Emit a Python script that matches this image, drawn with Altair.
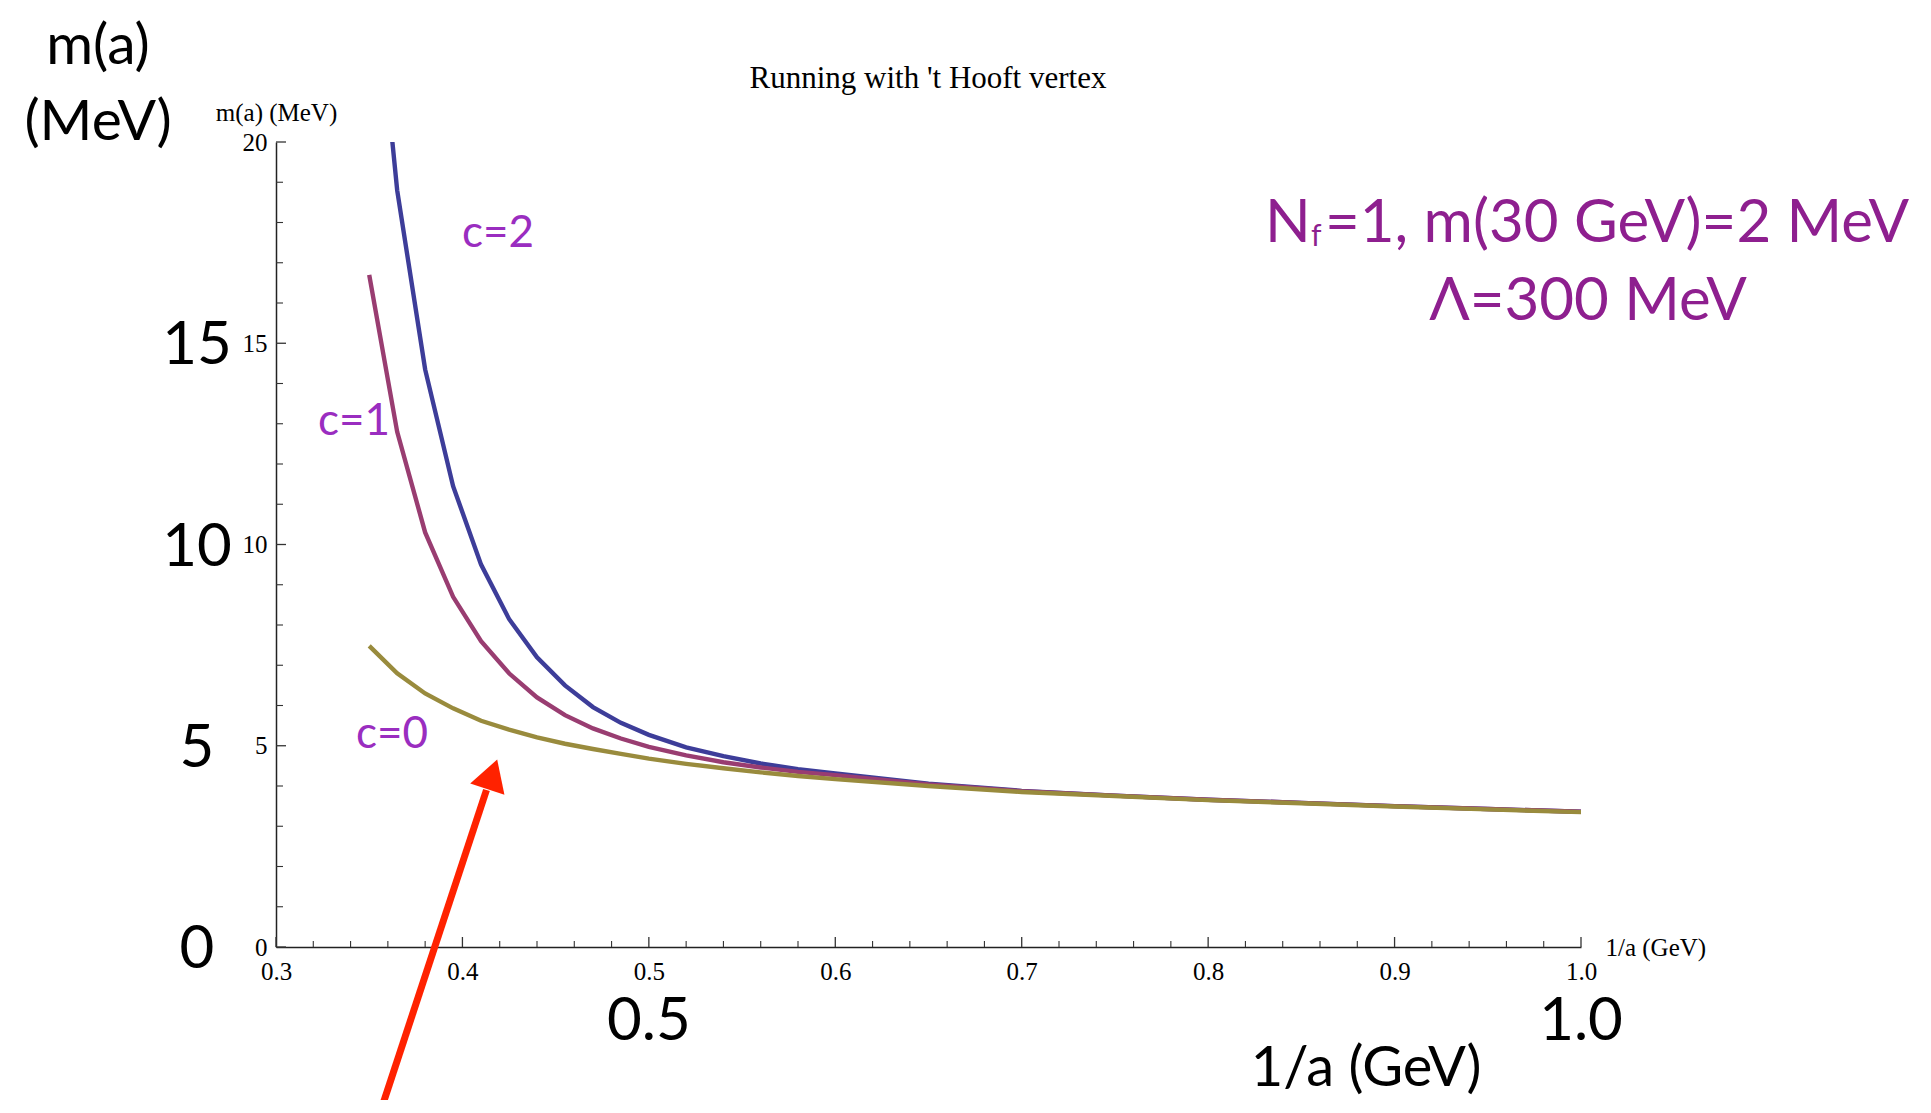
import altair as alt
import pandas as pd

# ---- curve data ----
x_vals = [0.35, 0.365, 0.38, 0.395, 0.41, 0.425, 0.44, 0.455, 0.47, 0.485, 0.50,
          0.52, 0.54, 0.56, 0.58, 0.60, 0.65, 0.70, 0.75, 0.80, 0.85, 0.90, 0.95, 1.00]
m_c2 = [25.8, 18.8, 14.35, 11.45, 9.5, 8.15, 7.2, 6.5, 5.96, 5.57, 5.27,
        4.96, 4.74, 4.56, 4.42, 4.31, 4.06, 3.88, 3.76, 3.66, 3.58, 3.50, 3.43, 3.36]
m_c1 = [16.7, 12.8, 10.3, 8.7, 7.6, 6.8, 6.2, 5.76, 5.43, 5.18, 4.97,
        4.76, 4.59, 4.46, 4.35, 4.27, 4.04, 3.87, 3.76, 3.66, 3.58, 3.50, 3.43, 3.36]
m_c0 = [7.48, 6.8, 6.3, 5.93, 5.62, 5.40, 5.21, 5.05, 4.92, 4.80, 4.68,
        4.55, 4.44, 4.34, 4.25, 4.17, 4.00, 3.85, 3.75, 3.65, 3.57, 3.49, 3.42, 3.35]

# ---- axis ticks ----
x_major = [0.3, 0.4, 0.5, 0.6, 0.7, 0.8, 0.9, 1.0]
x_minor = [round(0.3 + 0.02 * i, 2) for i in range(36) if i % 5 != 0]
y_major = [0, 5, 10, 15, 20]
y_minor = [v for v in range(0, 21) if v % 5 != 0]

# ---- annotations ----
curve_labels = ["c=2", "c=1", "c=0"]
curve_label_x = [0.3998, 0.3225, 0.3429]
curve_label_y = [17.4, 12.72, 4.94]
big_y_labels = ["15", "10", "5", "0"]
big_y_vals = [15, 10, 5, 0]
big_x_labels = ["0.5", "1.0"]
big_x_vals = [0.5, 1.0]
arrow_x = [0.3558, 0.4129]
arrow_y = [-4.12, 3.90]
arrow_head_x = [0.416]
arrow_head_y = [4.29]

W, H = 1305, 805
SERIF = "Liberation Serif"
SANS = "Lato"
PURPLE = "#8e1f8f"
VIOLET = "#9a2dc0"

xs = alt.Scale(domain=[0.3, 1.0], nice=False, zero=False)
ys = alt.Scale(domain=[0, 20], nice=False, zero=False)

def curve(vals, color):
    df = pd.DataFrame({"x": x_vals, "m": vals})
    return alt.Chart(df).mark_line(color=color, strokeWidth=4.4, clip=True).encode(
        x=alt.X("x:Q", scale=xs),
        y=alt.Y("m:Q", scale=ys),
    )

x_axis = alt.Axis(values=x_major, format=".1f", ticks=False, tickSize=0, grid=False,
                  labelFlush=False, domainColor="#222222", domainWidth=1.5,
                  labelFont=SERIF, labelFontSize=25, labelColor="black", labelPadding=12,
                  title="1/a (GeV)", titleFont=SERIF, titleFontSize=25, titleFontWeight="normal",
                  titleColor="black", titleX=1329, titleY=0, titleAlign="left",
                  titleBaseline="middle")
y_axis = alt.Axis(values=y_major, ticks=False, tickSize=0, grid=False,
                  labelFlush=False, domainColor="#222222", domainWidth=1.5,
                  labelFont=SERIF, labelFontSize=25, labelColor="black", labelPadding=9,
                  title="m(a) (MeV)", titleFont=SERIF, titleFontSize=25, titleFontWeight="normal",
                  titleColor="black", titleAngle=0, titleX=0, titleY=-30, titleAlign="center",
                  titleBaseline="middle")

base_df = pd.DataFrame({"x": [0.3, 1.0], "m": [0, 20]})
axes = alt.Chart(base_df).mark_point(opacity=0).encode(
    x=alt.X("x:Q", scale=xs, axis=x_axis),
    y=alt.Y("m:Q", scale=ys, axis=y_axis),
)

ymaj = alt.Chart(pd.DataFrame({"m": y_major})).mark_rule(color="#333333", strokeWidth=1.3).encode(
    y=alt.Y("m:Q", scale=ys), x=alt.value(0), x2=alt.value(10))
ymin = alt.Chart(pd.DataFrame({"m": y_minor})).mark_rule(color="#333333", strokeWidth=1.1).encode(
    y=alt.Y("m:Q", scale=ys), x=alt.value(0), x2=alt.value(7))
xmaj = alt.Chart(pd.DataFrame({"x": x_major})).mark_rule(color="#333333", strokeWidth=1.3).encode(
    x=alt.X("x:Q", scale=xs), y=alt.value(H), y2=alt.value(H - 10))
xmin = alt.Chart(pd.DataFrame({"x": x_minor})).mark_rule(color="#333333", strokeWidth=1.1).encode(
    x=alt.X("x:Q", scale=xs), y=alt.value(H), y2=alt.value(H - 6))

c_lab = alt.Chart(pd.DataFrame({"x": curve_label_x, "m": curve_label_y, "t": curve_labels})).mark_text(
    font=SANS, fontSize=44, color=VIOLET, align="left", baseline="alphabetic").encode(
    x=alt.X("x:Q", scale=xs), y=alt.Y("m:Q", scale=ys), text="t:N")

big_y = alt.Chart(pd.DataFrame({"m": big_y_vals, "t": big_y_labels})).mark_text(
    font=SANS, fontSize=60, color="black", align="center", baseline="middle", dy=3).encode(
    y=alt.Y("m:Q", scale=ys), x=alt.value(-79), text="t:N")
big_x = alt.Chart(pd.DataFrame({"x": big_x_vals, "t": big_x_labels})).mark_text(
    font=SANS, fontSize=60, color="black", align="center", baseline="middle").encode(
    x=alt.X("x:Q", scale=xs), y=alt.value(880), text="t:N")

def ptext(txt, px, py, size, color, font=SANS, align="left", baseline="alphabetic"):
    return alt.Chart(pd.DataFrame({"t": [txt]})).mark_text(
        font=font, fontSize=size, color=color, align=align, baseline=baseline).encode(
        x=alt.value(px), y=alt.value(py), text="t:N")

title = ptext("Running with 't Hooft vertex", 652, -54, 31, "black", font=SERIF, align="center")
big_m = ptext("m(a)", -178, -78, 57, "black", align="center")
big_mev = ptext("(MeV)", -178, -2, 57, "black", align="center")
big_xt = ptext("1/a (GeV)", 1090, 944, 56, "black", align="center")
nf_N = ptext("N", 989, 100, 60, PURPLE)
nf_f = ptext("f", 1035, 104, 30, PURPLE)
nf_rest = ptext("=1, m(30 GeV)=2 MeV", 1049, 100, 60, PURPLE)
lam = ptext("Λ=300 MeV", 1312, 178, 60, PURPLE, align="center")

arrow_line = alt.Chart(pd.DataFrame({"x": arrow_x, "m": arrow_y})).mark_line(
    color="#ff2200", strokeWidth=7, clip=False).encode(
    x=alt.X("x:Q", scale=xs), y=alt.Y("m:Q", scale=ys))
arrow_head = alt.Chart(pd.DataFrame({"x": arrow_head_x, "m": arrow_head_y})).mark_point(
    shape="triangle-up", size=1300, filled=True, color="#ff2200", opacity=1, angle=18.4,
    clip=False).encode(
    x=alt.X("x:Q", scale=xs), y=alt.Y("m:Q", scale=ys))

chart = alt.layer(
    axes, ymaj, ymin, xmaj, xmin,
    curve(m_c2, "#3d3d99"), curve(m_c1, "#993d71"), curve(m_c0, "#998b3d"),
    c_lab, big_y, big_x, title, big_m, big_mev, big_xt,
    nf_N, nf_f, nf_rest, lam, arrow_line, arrow_head,
).properties(
    width=W, height=H, autosize="none",
    padding={"left": 268, "top": 134, "right": 340, "bottom": 153},
).configure(background="white").configure_view(stroke=None)

chart.save("out.html", embed_options={"renderer": "svg", "actions": False})
